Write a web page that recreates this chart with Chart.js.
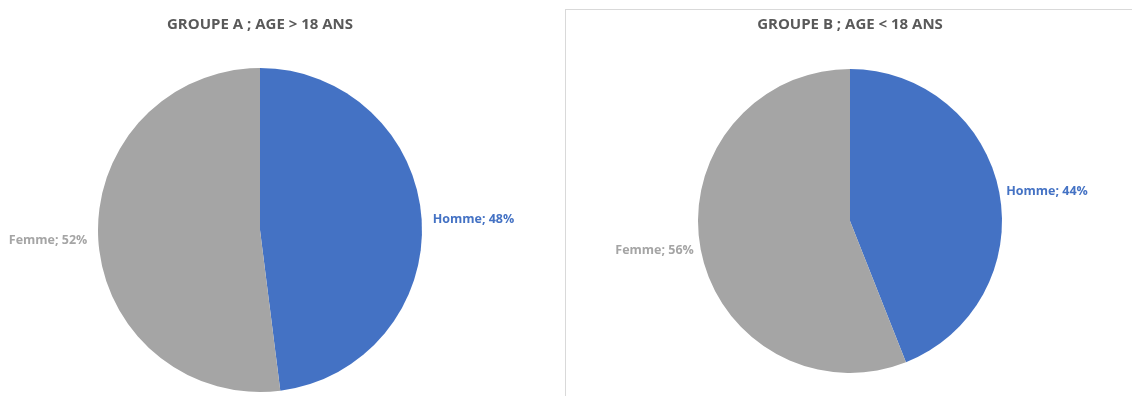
<!DOCTYPE html>
<html>
<head>
<meta charset="utf-8">
<script src="https://cdn.jsdelivr.net/npm/chart.js@4"></script>
<style>
  html, body { margin: 0; padding: 0; background: #ffffff; }
  body { width: 1132px; height: 396px; position: relative; overflow: hidden; }
  .frame { position: absolute; left: 565px; top: 9px; width: 600px; height: 400px;
           border-left: 1px solid #d9d9d9; border-top: 1px solid #d9d9d9; }
  .box { position: absolute; top: 0; height: 396px; width: 520px; }
  #boxA { left: 0; }
  #boxB { left: 590px; }
</style>
</head>
<body>
<div class="frame"></div>
<div class="box" id="boxA"><canvas id="chartA"></canvas></div>
<div class="box" id="boxB"><canvas id="chartB"></canvas></div>
<script>
const categories = ['Homme', 'Femme'];
const groupAValues = [48, 52];
const groupBValues = [44, 56];
const titleA = 'GROUPE A ; AGE > 18 ANS';
const titleB = 'GROUPE B ; AGE < 18 ANS';
const sliceColors = ['#4472C4', '#A5A5A5'];
const labelColors = ['#4472C4', '#A5A5A5'];

const FONT = "'Open Sans', 'Liberation Sans', sans-serif";

const outsideLabels = {
  id: 'outsideLabels',
  afterDatasetsDraw(chart, args, opts) {
    const ctx = chart.ctx;
    const meta = chart.getDatasetMeta(0);
    const data = chart.data.datasets[0].data;
    ctx.save();
    ctx.font = 'bold 12.5px ' + FONT;
    ctx.textBaseline = 'middle';
    meta.data.forEach((arc, i) => {
      const p = arc.getProps(['x', 'y', 'startAngle', 'endAngle', 'outerRadius'], true);
      const mid = (p.startAngle + p.endAngle) / 2;
      const r = p.outerRadius + opts.offset;
      const x = p.x + Math.cos(mid) * r;
      const y = p.y + Math.sin(mid) * r;
      ctx.fillStyle = labelColors[i];
      ctx.textAlign = Math.cos(mid) >= 0 ? 'left' : 'right';
      ctx.fillText(chart.data.labels[i] + '; ' + data[i] + '%', x, y);
    });
    ctx.restore();
  }
};

function makePie(id, values, title, padBottom, titlePadBottom, labelOffset) {
  return new Chart(document.getElementById(id), {
    type: 'pie',
    data: {
      labels: categories,
      datasets: [{
        data: values,
        backgroundColor: sliceColors,
        borderWidth: 0,
        hoverOffset: 0
      }]
    },
    options: {
      responsive: true,
      maintainAspectRatio: false,
      animation: false,
      events: [],
      layout: { padding: { top: 0, bottom: padBottom, left: 0, right: 0 } },
      plugins: {
        legend: { display: false },
        tooltip: { enabled: false },
        title: {
          display: true,
          text: title,
          color: '#595959',
          font: { family: FONT, size: 15, weight: 'bold', lineHeight: 1.2 },
          padding: { top: 16, bottom: titlePadBottom }
        },
        outsideLabels: { offset: labelOffset }
      }
    },
    plugins: [outsideLabels]
  });
}

makePie('chartA', groupAValues, titleA, 4, 34, 11);
makePie('chartB', groupBValues, titleB, 23, 35, 7);
</script>
</body>
</html>
